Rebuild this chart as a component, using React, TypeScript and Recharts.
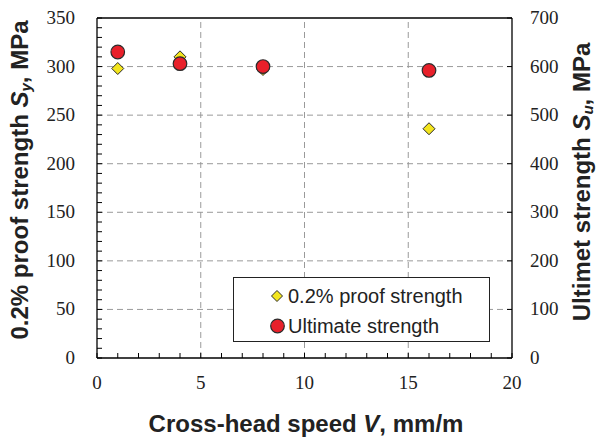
import {
  ScatterChart,
  Scatter,
  XAxis,
  YAxis,
  ReferenceLine,
  Legend,
} from "recharts";

// crosshead speed, mm/m
const speeds = [1, 4, 8, 16];
// 0.2% proof strength, MPa (left axis)
const proofStrength = [298, 310, 297, 236];
// ultimate strength, MPa (right axis)
const ultimateStrength = [630, 606, 600, 592];

const xTicks = [0, 1, 2, 3, 4, 5, 6, 7, 8, 9, 10, 11, 12, 13, 14, 15, 16, 17, 18, 19, 20];
const xLabels = [0, 5, 10, 15, 20];
const leftTicks = [
  0, 10, 20, 30, 40, 50, 60, 70, 80, 90, 100, 110, 120, 130, 140, 150, 160, 170,
  180, 190, 200, 210, 220, 230, 240, 250, 260, 270, 280, 290, 300, 310, 320, 330,
  340, 350,
];
const leftLabels = [0, 50, 100, 150, 200, 250, 300, 350];
const rightTicks = [0, 100, 200, 300, 400, 500, 600, 700];
const gridX = [5, 10, 15];
const gridY = [50, 100, 150, 200, 250, 300];

const proofData = speeds.map((v, i) => ({ v, s: proofStrength[i] }));
const ultimateData = speeds.map((v, i) => ({ v, s: ultimateStrength[i] }));

const YELLOW = "#f3e51d";
const RED = "#e8202a";
const EDGE = "#2a2a2a";
const SERIF = "'Liberation Serif', 'Times New Roman', serif";
const SANS = "'Liberation Sans', Arial, sans-serif";
const TICK_LEN = 5;

const Diamond = ({ cx, cy, r = 6 }: any) => (
  <polygon
    points={`${cx},${cy - r} ${cx + r},${cy} ${cx},${cy + r} ${cx - r},${cy}`}
    fill={YELLOW}
    stroke={EDGE}
    strokeWidth={1}
  />
);

const Dot = ({ cx, cy, r = 6.8 }: any) => (
  <circle cx={cx} cy={cy} r={r} fill={RED} stroke={EDGE} strokeWidth={1.2} />
);

const XTick = ({ x, y, payload }: any) => (
  <g>
    <line x1={x} x2={x} y1={y} y2={y - TICK_LEN} stroke="#000" />
    {xLabels.includes(payload.value) && (
      <text x={x} y={y + 31} textAnchor="middle" fontFamily={SERIF} fontSize={19} fill="#222">
        {payload.value}
      </text>
    )}
  </g>
);

const LeftTick = ({ x, y, payload }: any) => (
  <g>
    <line x1={x} x2={x + TICK_LEN} y1={y} y2={y} stroke="#000" />
    {leftLabels.includes(payload.value) && (
      <text x={x - 22} y={y + 6} textAnchor="end" fontFamily={SERIF} fontSize={19} fill="#222">
        {payload.value}
      </text>
    )}
  </g>
);

const RightTick = ({ x, y, payload }: any) => (
  <g>
    <line x1={x} x2={x - TICK_LEN} y1={y} y2={y} stroke="#000" />
    <text x={x + 18} y={y + 6} textAnchor="start" fontFamily={SERIF} fontSize={19} fill="#222">
      {payload.value}
    </text>
  </g>
);

const LegendBox = ({ payload }: any) => (
  <div
    style={{
      width: 257,
      height: 65,
      boxSizing: "border-box",
      border: "1px solid #222",
      background: "#fff",
      fontFamily: SANS,
      fontSize: 20,
      color: "#222",
      paddingTop: 3,
    }}
  >
    {(payload || []).map((entry: any) => (
      <div key={entry.value} style={{ display: "flex", alignItems: "center", height: 30, paddingLeft: 36 }}>
        <svg width={17} height={16} style={{ marginRight: 1 }}>
          {entry.value.startsWith("0.2") ? (
            <Diamond cx={7} cy={8} r={5.5} />
          ) : (
            <Dot cx={7.5} cy={8} r={6.8} />
          )}
        </svg>
        <span>{entry.value}</span>
      </div>
    ))}
  </div>
);

export default function App() {
  return (
    <div style={{ position: "absolute", left: 0, top: 0, width: 596, height: 437, background: "#fff" }}>
      <ScatterChart
        width={596}
        height={437}
        margin={{ top: 18, right: 0, bottom: 0, left: 0 }}
      >
        {gridY.map((g) => (
          <ReferenceLine key={`gy${g}`} yAxisId="left" y={g} stroke="#9a9a9a" strokeDasharray="6 4" />
        ))}
        {gridX.map((g) => (
          <ReferenceLine key={`gx${g}`} yAxisId="left" x={g} stroke="#9a9a9a" strokeDasharray="6 4" />
        ))}
        <ReferenceLine yAxisId="left" y={350} stroke="#000" strokeWidth={1.3} />
        <XAxis
          type="number"
          dataKey="v"
          domain={[0, 20]}
          ticks={xTicks}
          interval={0}
          height={79}
          tickSize={0}
          tickMargin={0}
          tickLine={false}
          tick={<XTick />}
          axisLine={{ stroke: "#000", strokeWidth: 1.3 }}
        />
        <YAxis
          yAxisId="left"
          type="number"
          dataKey="s"
          domain={[0, 350]}
          ticks={leftTicks}
          interval={0}
          width={97}
          tickSize={0}
          tickMargin={0}
          tickLine={false}
          tick={<LeftTick />}
          axisLine={{ stroke: "#000", strokeWidth: 1.3 }}
        />
        <YAxis
          yAxisId="right"
          orientation="right"
          type="number"
          dataKey="s"
          domain={[0, 700]}
          ticks={rightTicks}
          interval={0}
          width={84}
          tickSize={0}
          tickMargin={0}
          tickLine={false}
          tick={<RightTick />}
          axisLine={{ stroke: "#000", strokeWidth: 1.3 }}
        />
        <Scatter
          name="0.2% proof strength"
          yAxisId="left"
          data={proofData}
          shape={<Diamond />}
          fill={YELLOW}
          isAnimationActive={false}
        />
        <Scatter
          name="Ultimate strength"
          yAxisId="right"
          data={ultimateData}
          shape={<Dot />}
          fill={RED}
          isAnimationActive={false}
        />
        <Legend
          layout="vertical"
          align="center"
          verticalAlign="middle"
          content={<LegendBox />}
          wrapperStyle={{ position: "absolute", left: 233, top: 277, width: 257, height: 65 }}
        />
        <text
          transform="translate(28, 180) rotate(-90)"
          textAnchor="middle"
          fontFamily={SANS}
          fontWeight="bold"
          fontSize={24}
          fill="#222"
        >
          0.2% proof strength <tspan fontStyle="italic">S</tspan>
          <tspan fontStyle="italic" fontSize={15} dy={3}>y</tspan>
          <tspan dy={-3}>, MPa</tspan>
        </text>
        <text
          transform="translate(590, 182) rotate(-90)"
          textAnchor="middle"
          fontFamily={SANS}
          fontWeight="bold"
          fontSize={24}
          fill="#222"
        >
          Ultimet strength <tspan fontStyle="italic">S</tspan>
          <tspan fontStyle="italic" fontSize={15} dy={3}>u</tspan>
          <tspan dy={-3}>, MPa</tspan>
        </text>
        <text
          x={306}
          y={432}
          textAnchor="middle"
          fontFamily={SANS}
          fontWeight="bold"
          fontSize={24}
          fill="#222"
        >
          Cross-head speed <tspan fontStyle="italic">V</tspan>, mm/m
        </text>
      </ScatterChart>
    </div>
  );
}
